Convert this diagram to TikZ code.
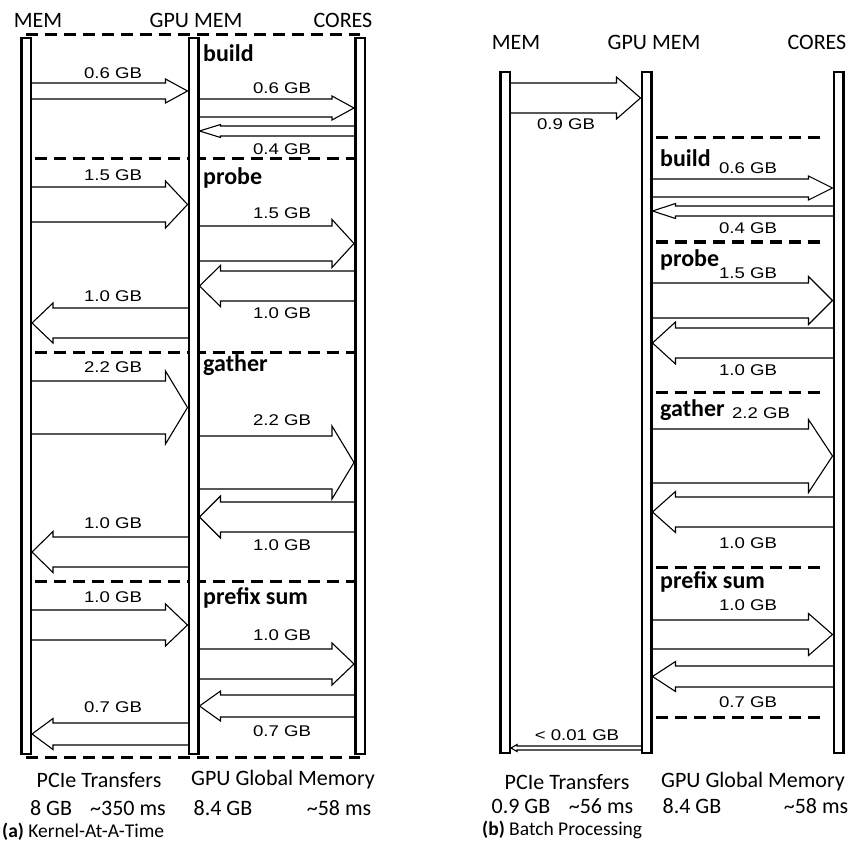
\documentclass[tikz,border=0pt]{standalone}
\usepackage{fontspec}
\setmainfont{Carlito}
\newfontfamily\gbfont{Liberation Sans}
\usetikzlibrary{calc}
\pgfdeclarelayer{back}
\pgfsetlayers{back,main}

% 右向き / 左向きの転送矢印: 元, 先, y, 軸の半幅, 頭の半幅, 頭の長さ
\newcommand{\xferR}[6]{%
  \begin{pgfonlayer}{back}
  \path[xfer] (#1.center |- 0,#3-#4)
    -- ($(#2.west |- 0,#3-#4)+(-#6,0)$) -- ($(#2.west |- 0,#3-#5)+(-#6,0)$)
    -- (#2.west |- 0,#3)
    -- ($(#2.west |- 0,#3+#5)+(-#6,0)$) -- ($(#2.west |- 0,#3+#4)+(-#6,0)$)
    -- (#1.center |- 0,#3+#4) -- cycle;
  \end{pgfonlayer}}
\newcommand{\xferL}[6]{%
  \begin{pgfonlayer}{back}
  \path[xfer] (#1.center |- 0,#3-#4)
    -- ($(#2.east |- 0,#3-#4)+(#6,0)$) -- ($(#2.east |- 0,#3-#5)+(#6,0)$)
    -- (#2.east |- 0,#3)
    -- ($(#2.east |- 0,#3+#5)+(#6,0)$) -- ($(#2.east |- 0,#3+#4)+(#6,0)$)
    -- (#1.center |- 0,#3+#4) -- cycle;
  \end{pgfonlayer}}
\newcommand{\gbtext}[1]{\scalebox{1.2}[1]{\gbfont\fontsize{15.5}{15.5}\selectfont #1}}

\begin{document}
\begin{tikzpicture}[x=1pt, y=-1pt]
    % スタイル
    \tikzstyle{lane} = [rectangle, draw, line width=2.5pt, fill=white, minimum width=9.5pt, inner sep=0pt]
    \tikzstyle{stagesep} = [draw, line width=3pt, dash pattern=on 12pt off 7pt]
    \tikzstyle{xfer} = [draw, fill=white, line width=1.1pt, line join=miter]
    \tikzstyle{gb} = [inner sep=0pt]
    \tikzstyle{hdr} = [font=\fontsize{22}{22}\selectfont, inner sep=0pt]
    \tikzstyle{kernel} = [font=\bfseries\fontsize{24}{24}\selectfont, anchor=west, inner sep=0pt]
    \tikzstyle{capt} = [font=\fontsize{19.5}{19.5}\selectfont, anchor=west, inner sep=0pt]

    \useasboundingbox (0,0) rectangle (853,850);

    % 縦棒
    \node[lane, minimum height=715.5pt] (memA) at (26,396) {};
    \node[lane, minimum height=715.5pt] (gpuA) at (193.5,396) {};
    \node[lane, minimum height=715.5pt] (coresA) at (360,396) {};
    \node[lane, minimum height=680.5pt] (memB) at (505,412.5) {};
    \node[lane, minimum height=680.5pt] (gpuB) at (646.5,412.5) {};
    \node[lane, minimum height=680.5pt] (coresB) at (838.5,412.5) {};

    % 見出し
    \node[hdr] (memAh) at (38,20) {MEM};
    \node[hdr] (gpuAh) at (196,20) {GPU MEM};
    \node[hdr] (coresAh) at (343,20) {CORES};
    \node[hdr] (memBh) at (516,42) {MEM};
    \node[hdr] (gpuBh) at (654,42) {GPU MEM};
    \node[hdr] (coresBh) at (817,42) {CORES};

    % 区切り線
    \begin{pgfonlayer}{back}
    \foreach \y in {35,757}
        \path[stagesep] (memA.center |- 0,\y) -- (coresA.center |- 0,\y);
    \foreach \y in {159,352,581} {
        \path[stagesep] ($(memA.east |- 0,\y)+(3,0)$) -- (gpuA.center |- 0,\y);
        \path[stagesep] (gpuA.center |- 0,\y) -- (coresA.west |- 0,\y);
    }
    \foreach \y in {138,242,392,567,717}
        \path[stagesep] ($(gpuB.east |- 0,\y)+(3,0)$) -- ($(coresB.west |- 0,\y)+(-13,0)$);
    \end{pgfonlayer}

    % 転送 (a)
    \foreach \src/\dst/\y/\w/\h in {memA/gpuA/91/8/12, gpuA/coresA/108/9/12,
        memA/gpuA/204.5/17.5/23.5, gpuA/coresA/243.5/17.5/24,
        memA/gpuA/407.5/26.5/36.5, gpuA/coresA/462.5/26.5/36.5,
        memA/gpuA/625/15/21, gpuA/coresA/664/15/21}
        \xferR{\src}{\dst}{\y}{\w}{\h}{22};
    \foreach \src/\dst/\y/\w/\h in {coresA/gpuA/131/5/6.5,
        coresA/gpuA/286/15/20.5, gpuA/memA/323/15/20,
        coresA/gpuA/517/15/21, gpuA/memA/552/15/20.5,
        coresA/gpuA/706/11/15, gpuA/memA/734/11/15.5}
        \xferL{\src}{\dst}{\y}{\w}{\h}{21};

    % 転送 (b)
    \foreach \src/\dst/\y/\w/\h in {memB/gpuB/98/15/21, gpuB/coresB/188/9/12,
        gpuB/coresB/300.5/17.5/24, gpuB/coresB/456/27/36.5,
        gpuB/coresB/634.5/14.5/21}
        \xferR{\src}{\dst}{\y}{\w}{\h}{24};
    \foreach \src/\dst/\y/\w/\h in {coresB/gpuB/211/5/7.5,
        coresB/gpuB/343/15/21, coresB/gpuB/512/15/20.5,
        coresB/gpuB/676.5/10.5/15}
        \xferL{\src}{\dst}{\y}{\w}{\h}{23};
    \xferL{gpuB}{memB}{748}{2}{3.5}{6}

    % 量
    \foreach \x/\y/\txt [count=\i] in {113/73/0.6 GB, 282/88/0.6 GB, 282/149/0.4 GB,
        113/175/1.5 GB, 282/213/1.5 GB, 282/313/1.0 GB, 113/296/1.0 GB,
        113/367/2.2 GB, 282/420/2.2 GB, 282/545/1.0 GB, 113/523/1.0 GB,
        113/597/1.0 GB, 282/635/1.0 GB, 282/731/0.7 GB, 113/707/0.7 GB,
        566/124/0.9 GB, 748/168/0.6 GB, 748/228/0.4 GB, 748/273/1.5 GB,
        748/370/1.0 GB, 761/413/2.2 GB, 748/543/1.0 GB, 748/605/1.0 GB,
        748/702/0.7 GB, 577/735/< 0.01 GB}
        \node[gb] (gb\i) at (\x,\y) {\gbtext{\txt}};

    % カーネル名
    \foreach \x/\y/\txt [count=\i] in {203/53/build, 203/178/probe,
        203/365/gather, 203/598/prefix sum, 660/158/build, 660/260/probe,
        660/410/gather, 660/582/prefix sum}
        \node[kernel] (k\i) at (\x,\y) {\txt};

    % 下の説明
    \node[hdr] (pcieA) at (99,780) {PCIe Transfers};
    \node[hdr] (gmemA) at (283,780) {GPU Global Memory};
    \node[hdr] (sizeA) at (51,808) {8 GB};
    \node[hdr] (timeA) at (128,808) {\textasciitilde350 ms};
    \node[hdr] (gsizeA) at (223,808) {8.4 GB};
    \node[hdr] (gtimeA) at (339,808) {\textasciitilde58 ms};
    \node[hdr] (pcieB) at (567,782) {PCIe Transfers};
    \node[hdr] (gmemB) at (753,782) {GPU Global Memory};
    \node[hdr] (sizeB) at (521,806) {0.9 GB};
    \node[hdr] (timeB) at (601,806) {\textasciitilde56 ms};
    \node[hdr] (gsizeB) at (692,806) {8.4 GB};
    \node[hdr] (gtimeB) at (816,806) {\textasciitilde58 ms};
    \node[capt] (capA) at (2,832) {\textbf{(a)} Kernel-At-A-Time};
    \node[capt] (capB) at (482,830) {\textbf{(b)} Batch Processing};
\end{tikzpicture}
\end{document}
